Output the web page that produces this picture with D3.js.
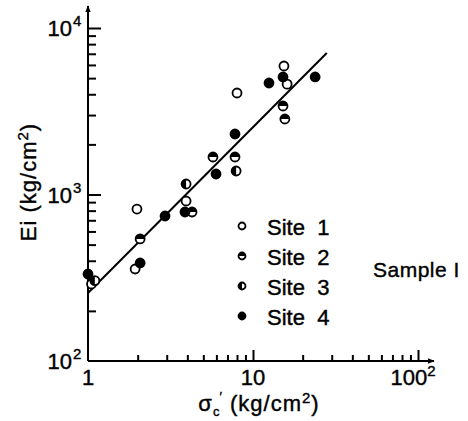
<!DOCTYPE html>
<html>
<head>
<meta charset="utf-8">
<script src="https://cdn.jsdelivr.net/npm/d3@7"></script>
<style>
  body { margin: 0; background: #fff; }
  svg { display: block; font-family: "Liberation Sans", Arial, sans-serif; }
  text { stroke: #000; stroke-width: 0.4px; }
</style>
</head>
<body>
<svg width="468" height="421"></svg>
<script>
"use strict";

// data (stress in kg/cm2, modulus Ei in kg/cm2)
var site1X = [1.05, 1.93, 1.98, 3.93, 8.0, 15.4, 16.1];
var site1Y = [290, 357, 818, 914, 4070, 5911, 4600];
var site2X = [2.07, 4.27, 5.72, 7.78, 15.2, 15.6];
var site2Y = [541, 785, 1680, 1680, 3401, 2840];
var site3X = [1.1, 3.93, 7.9];
var site3Y = [304, 1156, 1384];
var site4X = [1.0, 2.07, 2.93, 3.87, 5.97, 7.78, 12.5, 15.2, 23.8];
var site4Y = [333, 388, 743, 785, 1328, 2308, 4673, 5080, 5080];
var fitX = [1, 28];
var fitY = [256, 7080];

var siteNames = ['Site  1', 'Site  2', 'Site  3', 'Site  4'];
var xTickValues = [1, 10, 100];
var xTickExp = ['', '', '2'];
var yTickValues = [100, 1000, 10000];
var yTickExp = ['2', '3', '4'];

var svg = d3.select('svg');

var xScale = d3.scaleLog()
    .domain([1, 100])
    .range([88, 418]);

var yScale = d3.scaleLog()
    .domain([100, 10000])
    .range([361, 28]);

var minorX = [2, 3, 4, 5, 6, 7, 8, 9, 20, 30, 40, 50, 60, 70, 80, 90];
var minorY = [200, 300, 400, 500, 600, 700, 800, 900, 2000, 3000, 4000, 5000, 6000, 7000, 8000, 9000];

svg.append('defs')
    .append('clipPath')
    .attr('id', 'half-h')
    .attr('clipPathUnits', 'objectBoundingBox')
    .append('rect')
    .attr('x', 0).attr('y', 0).attr('width', 1).attr('height', 0.5);

svg.select('defs')
    .append('clipPath')
    .attr('id', 'half-v')
    .attr('clipPathUnits', 'objectBoundingBox')
    .append('rect')
    .attr('x', 0).attr('y', 0).attr('width', 0.5).attr('height', 1);

svg.select('defs')
    .append('marker')
    .attr('id', 'arrow')
    .attr('viewBox', '0 0 10 10')
    .attr('refX', 9).attr('refY', 5)
    .attr('markerWidth', 7).attr('markerHeight', 9)
    .attr('markerUnits', 'userSpaceOnUse')
    .attr('orient', 'auto')
    .append('path')
    .attr('d', 'M0,1 L10,5 L0,9 Z')
    .attr('fill', '#000');

// axis lines with arrows
svg.append('line')
    .attr('x1', xScale(1)).attr('y1', yScale(100))
    .attr('x2', xScale(1)).attr('y2', 6)
    .attr('stroke', '#000').attr('stroke-width', 2)
    .attr('marker-end', 'url(#arrow)');

svg.append('line')
    .attr('x1', xScale(1)).attr('y1', yScale(100))
    .attr('x2', 434).attr('y2', yScale(100))
    .attr('stroke', '#000').attr('stroke-width', 2)
    .attr('marker-end', 'url(#arrow)');

// ticks: inside the frame
var yG = svg.append('g')
    .attr('transform', 'translate(' + xScale(1) + ',0)')
    .call(d3.axisRight(yScale).tickValues(minorY).tickSize(8).tickFormat(''));
yG.select('.domain').remove();

var yMajor = svg.append('g')
    .attr('transform', 'translate(' + xScale(1) + ',0)')
    .call(d3.axisRight(yScale).tickValues([1000, 10000]).tickSize(13).tickFormat(''));
yMajor.select('.domain').remove();

var xG = svg.append('g')
    .attr('transform', 'translate(0,' + yScale(100) + ')')
    .call(d3.axisTop(xScale).tickValues(minorX).tickSize(6).tickFormat(''));
xG.select('.domain').remove();

var xMajor = svg.append('g')
    .attr('transform', 'translate(0,' + yScale(100) + ')')
    .call(d3.axisTop(xScale).tickValues([10, 100]).tickSize(11).tickFormat(''));
xMajor.select('.domain').remove();

svg.selectAll('.tick line')
    .attr('stroke', '#000')
    .attr('stroke-width', 2);

// tick labels
svg.append('g')
    .selectAll('text')
    .data(yTickValues)
    .enter()
    .append('text')
    .attr('x', 72)
    .attr('y', function (d) { return yScale(d) + 8; })
    .attr('text-anchor', 'end')
    .attr('font-size', 22)
    .text('10');

svg.append('g')
    .selectAll('text')
    .data(yTickValues)
    .enter()
    .append('text')
    .attr('x', 73)
    .attr('y', function (d) { return yScale(d) - 2; })
    .attr('font-size', 15)
    .text(function (d, i) { return yTickExp[i]; });

svg.append('g')
    .selectAll('text')
    .data(xTickValues)
    .enter()
    .append('text')
    .attr('x', function (d, i) { return xScale(d) - (xTickExp[i] ? 5 : 0); })
    .attr('y', 385)
    .attr('text-anchor', 'middle')
    .attr('font-size', 22)
    .text(function (d) { return d; })
    .append('tspan')
    .attr('dy', -9)
    .attr('font-size', 15)
    .text(function (d, i) { return xTickExp[i]; });

// axis titles
var yTitle = svg.append('text')
    .attr('transform', 'translate(36,182) rotate(-90)')
    .attr('text-anchor', 'middle')
    .attr('font-size', 22)
    .attr('letter-spacing', 1);
yTitle.append('tspan').text('Ei (kg/cm');
yTitle.append('tspan').attr('dy', -8).attr('font-size', 15).text('2');
yTitle.append('tspan').attr('dy', 8).text(')');

var xTitle = svg.append('text')
    .attr('x', 259)
    .attr('y', 411)
    .attr('text-anchor', 'middle')
    .attr('font-size', 22)
    .attr('letter-spacing', 1);
xTitle.append('tspan').text('σ');
xTitle.append('tspan').attr('dy', 5).attr('font-size', 13).text('c');
xTitle.append('tspan').attr('dy', -15).attr('dx', -1).attr('font-size', 13).text('′');
xTitle.append('tspan').attr('dy', 10).text(' (kg/cm');
xTitle.append('tspan').attr('dy', -8).attr('font-size', 15).text('2');
xTitle.append('tspan').attr('dy', 8).text(')');

// fitted line
svg.append('line')
    .attr('x1', xScale(fitX[0])).attr('y1', yScale(fitY[0]))
    .attr('x2', xScale(fitX[1])).attr('y2', yScale(fitY[1]))
    .attr('stroke', '#000')
    .attr('stroke-width', 2);

// markers
function drawMarker(g, kind, r) {
    g.append('circle')
        .attr('r', r)
        .attr('fill', kind === 4 ? '#000' : '#fff')
        .attr('stroke', '#000')
        .attr('stroke-width', 1.8);
    if (kind === 2 || kind === 3) {
        g.append('circle')
            .attr('r', r)
            .attr('fill', '#000')
            .attr('clip-path', kind === 2 ? 'url(#half-h)' : 'url(#half-v)');
    }
}

function plotSite(xs, ys, kind) {
    svg.append('g')
        .selectAll('g')
        .data(xs)
        .enter()
        .append('g')
        .attr('transform', function (d, i) {
            return 'translate(' + xScale(d) + ',' + yScale(ys[i]) + ')';
        })
        .each(function () { drawMarker(d3.select(this), kind, 4.5); });
}

plotSite(site1X, site1Y, 1);
plotSite(site2X, site2Y, 2);
plotSite(site3X, site3Y, 3);
plotSite(site4X, site4Y, 4);

// legend
var legend = svg.append('g')
    .selectAll('g')
    .data(siteNames)
    .enter()
    .append('g')
    .attr('transform', function (d, i) {
        return 'translate(242,' + (226 + i * 30) + ')';
    });

legend.each(function (d, i) { drawMarker(d3.select(this), i + 1, 3.5); });

legend.append('text')
    .attr('x', 25)
    .attr('y', 9)
    .attr('font-size', 22)
    .style('white-space', 'pre')
    .text(function (d) { return d; });

svg.append('text')
    .attr('x', 373)
    .attr('y', 277)
    .attr('font-size', 21)
    .attr('letter-spacing', 0.5)
    .text('Sample I');
</script>
</body>
</html>
